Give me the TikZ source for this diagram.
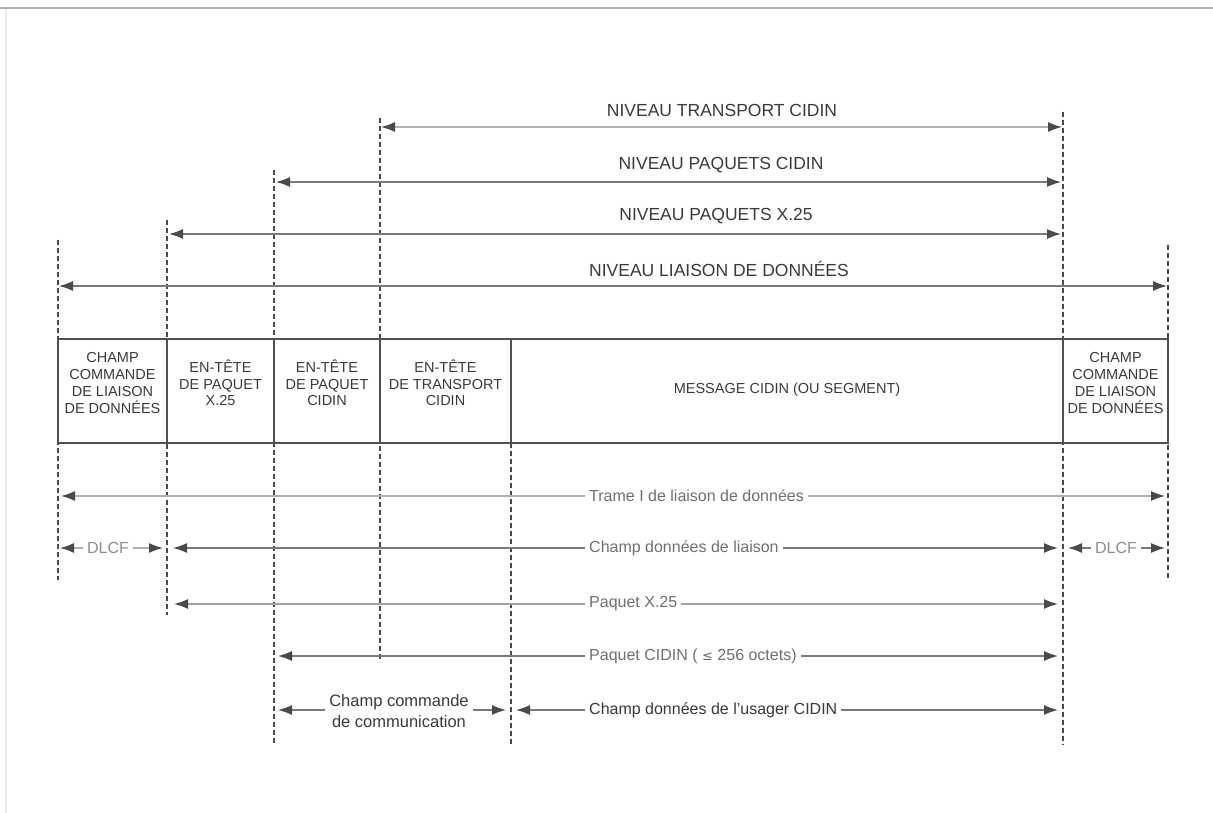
\documentclass[tikz,border=0pt]{standalone}
\usepackage{fontspec}
\setmainfont{Liberation Sans}
\usetikzlibrary{arrows.meta}
\definecolor{boxc}{HTML}{505050}
\definecolor{dashc}{HTML}{4A4A4A}
\definecolor{linec}{HTML}{7A7A7A}
\definecolor{tipc}{HTML}{4A4A4A}
\definecolor{textc}{HTML}{3A3A3A}
\definecolor{ltext}{HTML}{707070}
\definecolor{framec}{HTML}{B0B0B0}
\begin{document}
\begin{tikzpicture}[x=1pt,y=-1pt,
  vline/.style={draw=dashc, line width=1.1pt, dash pattern=on 5pt off 3pt},
  dimline/.style={draw=linec, line width=1.3pt,
    {Latex[length=14pt,width=10pt,color=tipc]}-{Latex[length=14pt,width=10pt,color=tipc]}},
  toplbl/.style={font=\fontsize{17.5}{20}\selectfont, text=textc, inner sep=0pt},
  lbl/.style={font=\fontsize{16}{19}\selectfont, text=ltext, fill=white, inner sep=4pt, anchor=west},
  dlbl/.style={font=\fontsize{16.5}{20.5}\selectfont, text=textc, fill=white, inner sep=4pt, align=center},
  cell/.style={draw=boxc, line width=1.2pt, minimum height=104pt, inner sep=0pt},
  boxlbl/.style={font=\fontsize{14.5}{16.7}\selectfont, text=textc, align=center, inner sep=0pt},
]
\useasboundingbox (0,0) rectangle (1213,813);
% frame remnants
\draw[framec, line width=1.5pt] (0,8) -- (1213,8);
\draw[black!8, line width=2pt] (6,9) -- (6,813);

% vertical dashed guide lines
\coordinate (v1t) at (58,240);   \coordinate (v1b) at (58,580);
\coordinate (v2t) at (167,220);  \coordinate (v2b) at (167,615);
\coordinate (v3t) at (274,170);  \coordinate (v3b) at (274,745);
\coordinate (v4t) at (380,118);  \coordinate (v4b) at (380,662);
\coordinate (v5t) at (511,443);  \coordinate (v5b) at (511,745);
\coordinate (v6t) at (1063,112); \coordinate (v6b) at (1063,745);
\coordinate (v7t) at (1168,245); \coordinate (v7b) at (1168,580);
\foreach \i in {1,...,7} {\draw[vline] (v\i t) -- (v\i b);}

% frame cells
\node[cell, minimum width=109pt] (c1) at (112.5,391) {};
\node[cell, minimum width=107pt] (c2) at (220.5,391) {};
\node[cell, minimum width=106pt] (c3) at (327,391) {};
\node[cell, minimum width=131pt] (c4) at (445.5,391) {};
\node[cell, minimum width=552pt] (c5) at (787,391) {};
\node[cell, minimum width=105pt] (c6) at (1115.5,391) {};
\node[boxlbl] (l1) at (112.5,383) {CHAMP\\COMMANDE\\DE LIAISON\\DE DONNÉES};
\node[boxlbl] (l2) at (220.5,383) {EN-TÊTE\\DE PAQUET\\X.25};
\node[boxlbl] (l3) at (327,383) {EN-TÊTE\\DE PAQUET\\CIDIN};
\node[boxlbl] (l4) at (445.5,383) {EN-TÊTE\\DE TRANSPORT\\CIDIN};
\node[boxlbl] (l5) at (787,390) {MESSAGE CIDIN (OU SEGMENT)};
\node[boxlbl] (l6) at (1115.5,383) {CHAMP\\COMMANDE\\DE LIAISON\\DE DONNÉES};

% upper level arrows
\coordinate (a1l) at (381,127); \coordinate (a1r) at (1062,127);
\coordinate (a2l) at (276,182); \coordinate (a2r) at (1061,182);
\coordinate (a3l) at (169,234); \coordinate (a3r) at (1061,234);
\coordinate (a4l) at (59,286);  \coordinate (a4r) at (1167,286);
\draw[dimline, draw=linec!55] (a1l) -- (a1r);
\draw[dimline] (a2l) -- (a2r);
\draw[dimline] (a3l) -- (a3r);
\draw[dimline] (a4l) -- (a4r);
\node[toplbl] (n1) at (722,110) {NIVEAU TRANSPORT CIDIN};
\node[toplbl] (n2) at (721,165) {NIVEAU PAQUETS CIDIN};
\node[toplbl] (n3) at (716,216) {NIVEAU PAQUETS X.25};
\node[toplbl] (n4) at (719,269) {NIVEAU LIAISON DE DONNÉES};

% lower arrows
\coordinate (b1l) at (61,496);   \coordinate (b1r) at (1165,496);
\coordinate (b2l) at (60,548);   \coordinate (b2r) at (163,548);
\coordinate (b3l) at (173,548);  \coordinate (b3r) at (1058,548);
\coordinate (b4l) at (1068,548); \coordinate (b4r) at (1165,548);
\coordinate (b5l) at (174,604);  \coordinate (b5r) at (1058,604);
\coordinate (b6l) at (278,656);  \coordinate (b6r) at (1058,656);
\coordinate (b7l) at (278,710);  \coordinate (b7r) at (506,710);
\coordinate (b8l) at (516,710);  \coordinate (b8r) at (1058,710);
\draw[dimline, draw=linec!60] (b1l) -- (b1r);
\draw[dimline, draw=linec!60] (b2l) -- (b2r);
\draw[dimline] (b3l) -- (b3r);
\draw[dimline] (b4l) -- (b4r);
\draw[dimline, draw=linec!70] (b5l) -- (b5r);
\draw[dimline] (b6l) -- (b6r);
\draw[dimline] (b7l) -- (b7r);
\draw[dimline] (b8l) -- (b8r);
\node[lbl] (m1) at (585,496) {Trame I de liaison de données};
\node[lbl, anchor=center, text=ltext!80] (m2) at (108,548) {DLCF};
\node[lbl] (m3) at (585,548) {Champ données de liaison};
\node[lbl, anchor=center, text=ltext!80] (m4) at (1116,548) {DLCF};
\node[lbl] (m5) at (585,604) {Paquet X.25};
\node[lbl] (m6) at (585,656) {Paquet CIDIN ( \fontspec{DejaVu Sans}\fontsize{13}{16}\selectfont ≤\fontspec{Liberation Sans}\fontsize{16}{19}\selectfont{} 256 octets)};
\node[dlbl] (m7) at (399,711) {Champ commande\\de communication};
\node[lbl, text=textc] (m8) at (585,710) {Champ données de l'usager CIDIN};
\end{tikzpicture}
\end{document}
